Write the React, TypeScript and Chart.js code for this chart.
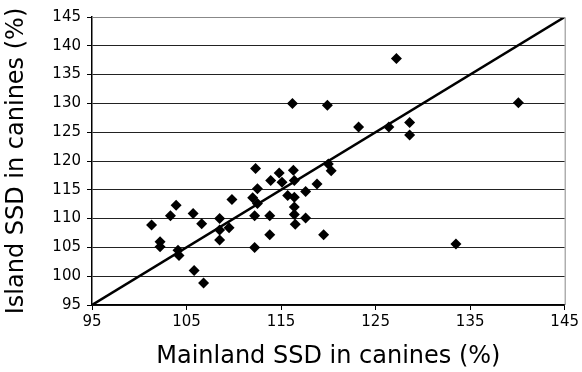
import React, { useEffect, useRef } from "react";
import { Chart, registerables } from "chart.js";

Chart.register(...registerables);

const mainland = [
  101.3, 102.2, 102.2, 103.3, 103.9, 104.1, 104.2, 105.7, 106.6, 105.8,
  106.8, 108.5, 108.5, 108.5, 109.5, 109.8, 112.3, 112.5, 112.0, 112.5,
  112.2, 112.2, 113.8, 113.8, 113.9, 114.8, 115.1, 116.3, 116.4, 115.7,
  116.4, 116.4, 116.4, 116.5, 117.6, 117.6, 118.8, 119.5, 120.0, 120.3,
  116.2, 119.9, 127.2, 123.2, 126.4, 128.6, 128.6, 140.1, 133.5,
];
const island = [
  108.9, 106.0, 105.1, 110.5, 112.3, 104.5, 103.6, 110.9, 109.1, 101.0,
  98.8, 110.0, 108.0, 106.3, 108.4, 113.3, 118.7, 115.2, 113.6, 112.6,
  110.5, 105.0, 110.5, 107.2, 116.6, 117.9, 116.3, 118.4, 116.6, 114.0,
  113.7, 112.0, 110.7, 109.0, 114.7, 110.1, 116.0, 107.2, 119.5, 118.3,
  130.0, 129.7, 137.8, 125.9, 125.9, 126.7, 124.5, 130.1, 105.6,
];
const lineX = [95, 145];
const lineY = [95, 145];

const FONT = "'DejaVu Sans', Verdana, sans-serif";

const borderPlugin = {
  id: "plotBorder",
  afterDraw(chart: any) {
    const { ctx, chartArea } = chart;
    ctx.save();
    ctx.strokeStyle = "#888";
    ctx.lineWidth = 1;
    ctx.beginPath();
    ctx.moveTo(chartArea.left, chartArea.top + 0.5);
    ctx.lineTo(chartArea.right + 0.5, chartArea.top + 0.5);
    ctx.lineTo(chartArea.right + 0.5, chartArea.bottom);
    ctx.stroke();
    ctx.restore();
  },
};

export default function App() {
  const ref = useRef<HTMLCanvasElement>(null);
  useEffect(() => {
    const points = mainland.map((x, i) => ({ x, y: island[i] }));
    const linePts = lineX.map((x, i) => ({ x, y: lineY[i] }));
    const chart = new Chart(ref.current!, {
      type: "scatter",
      data: {
        datasets: [
          {
            type: "line",
            data: linePts,
            borderColor: "#000",
            borderWidth: 2.5,
            pointRadius: 0,
            fill: false,
            order: 2,
          } as any,
          {
            data: points,
            pointStyle: "rectRot",
            pointRadius: 5.5,
            pointBackgroundColor: "#000",
            pointBorderColor: "#000",
            pointBorderWidth: 0,
            order: 1,
          },
        ],
      },
      options: {
        animation: false,
        responsive: false,
        maintainAspectRatio: false,
        layout: { padding: { top: 17, right: 14, left: 0, bottom: 0 } },
        plugins: { legend: { display: false }, tooltip: { enabled: false } },
        scales: {
          x: {
            type: "linear",
            min: 95,
            max: 145,
            afterFit(scale: any) {
              scale.height = 67;
            },
            ticks: {
              stepSize: 10,
              color: "#000",
              padding: 3,
              font: { family: FONT, size: 15 },
            },
            grid: {
              drawOnChartArea: false,
              drawTicks: true,
              tickLength: 5,
              color: "#000",
            },
            border: { color: "#000", width: 1.5 },
            title: {
              display: true,
              text: "Mainland SSD in canines (%)",
              color: "#000",
              font: { family: FONT, size: 24 },
              padding: { top: 0, bottom: 1 },
            },
          },
          y: {
            type: "linear",
            min: 95,
            max: 145,
            afterFit(scale: any) {
              scale.width = 92;
            },
            ticks: {
              stepSize: 5,
              color: "#000",
              padding: 6,
              font: { family: FONT, size: 15 },
            },
            grid: {
              color: "#222",
              lineWidth: 1,
              drawTicks: true,
              tickLength: 5,
              tickColor: "#000",
            },
            border: { color: "#000", width: 1.5 },
            title: {
              display: true,
              text: "Island SSD in canines (%)",
              color: "#000",
              font: { family: FONT, size: 24 },
              padding: { top: 2, bottom: 0 },
            },
          },
        },
      },
      plugins: [borderPlugin],
    });
    return () => chart.destroy();
  }, []);
  return (
    <div style={{ position: "fixed", left: 0, top: 0, width: 582, height: 372, background: "#fff" }}>
      <canvas ref={ref} width={582} height={372} />
    </div>
  );
}
